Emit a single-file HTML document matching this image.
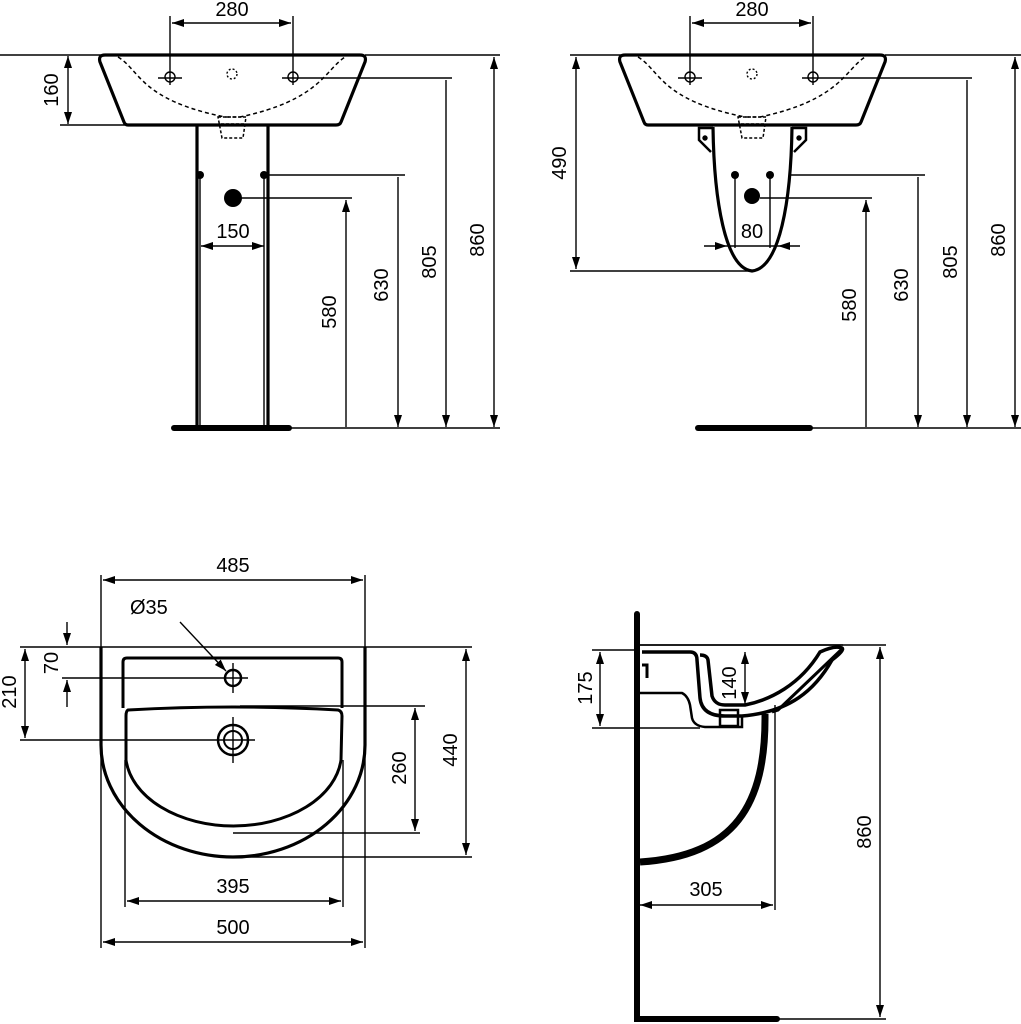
<!DOCTYPE html>
<html><head><meta charset="utf-8"><style>
html,body{margin:0;padding:0;background:#fff;}
svg{display:block;}
text{font-family:"Liberation Sans",sans-serif;font-size:20px;fill:#000;}
</style></head><body>
<svg width="1021" height="1024" viewBox="0 0 1021 1024" xmlns="http://www.w3.org/2000/svg">
<defs>
<marker id="a" viewBox="0 0 12 8" refX="12" refY="4" markerWidth="12" markerHeight="8" markerUnits="userSpaceOnUse" orient="auto-start-reverse"><path d="M0,0 L12,4 L0,8 Z" fill="#000"/></marker>
</defs>
<g stroke="#000" fill="none" stroke-width="1.4">
<!-- ===== TOP LEFT ===== -->
<line x1="170" y1="16" x2="170" y2="85"/><line x1="293" y1="16" x2="293" y2="85"/>
<line x1="172" y1="23" x2="291" y2="23" marker-start="url(#a)" marker-end="url(#a)"/>
<line x1="0" y1="55" x2="101" y2="55"/><line x1="60" y1="125" x2="125" y2="125"/>
<line x1="68" y1="56" x2="68" y2="124" marker-start="url(#a)" marker-end="url(#a)"/>
<line x1="365" y1="55" x2="500" y2="55"/>
<line x1="282" y1="78" x2="452" y2="78"/>
<line x1="268" y1="175" x2="405" y2="175"/>
<line x1="240" y1="198" x2="352" y2="198"/>
<line x1="290" y1="428" x2="500" y2="428"/>
<line x1="346" y1="200" x2="346" y2="427" marker-start="url(#a)"/>
<line x1="398" y1="177" x2="398" y2="427" marker-end="url(#a)"/>
<line x1="446" y1="80" x2="446" y2="427" marker-end="url(#a)"/>
<line x1="494" y1="57" x2="494" y2="427" marker-start="url(#a)" marker-end="url(#a)"/>
<line x1="201" y1="246" x2="264" y2="246" marker-start="url(#a)" marker-end="url(#a)"/>
<line x1="200" y1="175" x2="200" y2="428"/><line x1="264" y1="175" x2="264" y2="428"/>
<path d="M105,55 L360,55 Q367,55 365,62 L341,122 Q340,125 336,125 L128,125 Q125,125 124,122 L100,62 Q98,55 105,55 Z" stroke-width="3.2"/>
<path d="M118,57 C140,70 140,100 225,117 L240,117 C320,100 325,70 345,57" stroke-dasharray="4,3" stroke-width="1.5"/>
<path d="M218,117 L246,117 L243,138 L222,138 Z M221,124 L244,124" stroke-dasharray="3,2" stroke-width="1.5"/>
<circle cx="170" cy="77" r="5"/><line x1="158" y1="78" x2="182" y2="78"/>
<circle cx="293" cy="77" r="5"/>
<circle cx="232" cy="74" r="5" stroke-dasharray="2,2"/>
<line x1="197" y1="125" x2="197" y2="425" stroke-width="3.2"/><line x1="268" y1="125" x2="268" y2="425" stroke-width="3.2"/>
<line x1="174" y1="428" x2="289" y2="428" stroke-width="6" stroke-linecap="round"/>
<!-- ===== TOP RIGHT ===== -->
<line x1="690" y1="16" x2="690" y2="85"/><line x1="813" y1="16" x2="813" y2="85"/>
<line x1="692" y1="23" x2="811" y2="23" marker-start="url(#a)" marker-end="url(#a)"/>
<line x1="570" y1="55" x2="621" y2="55"/><line x1="570" y1="271" x2="755" y2="271"/>
<line x1="576" y1="57" x2="576" y2="269" marker-start="url(#a)" marker-end="url(#a)"/>
<line x1="885" y1="55" x2="1021" y2="55"/>
<line x1="802" y1="78" x2="972" y2="78"/>
<line x1="790" y1="175" x2="925" y2="175"/>
<line x1="760" y1="198" x2="872" y2="198"/>
<line x1="810" y1="428" x2="1021" y2="428"/>
<line x1="866" y1="200" x2="866" y2="427" marker-start="url(#a)"/>
<line x1="918" y1="177" x2="918" y2="427" marker-end="url(#a)"/>
<line x1="967" y1="80" x2="967" y2="427" marker-end="url(#a)"/>
<line x1="1015" y1="57" x2="1015" y2="427" marker-start="url(#a)" marker-end="url(#a)"/>
<line x1="704" y1="246" x2="727" y2="246" marker-end="url(#a)"/><line x1="800" y1="246" x2="778" y2="246" marker-end="url(#a)"/>
<line x1="727" y1="246" x2="778" y2="246"/>
<line x1="735" y1="175" x2="735" y2="248"/><line x1="770" y1="175" x2="770" y2="248"/>
<path d="M625,55 L880,55 Q887,55 885,62 L861,122 Q860,125 856,125 L648,125 Q645,125 644,122 L620,62 Q618,55 625,55 Z" stroke-width="3.2"/>
<path d="M638,57 C660,70 660,100 745,117 L760,117 C840,100 845,70 865,57" stroke-dasharray="4,3" stroke-width="1.5"/>
<path d="M738,117 L766,117 L763,138 L742,138 Z M741,124 L764,124" stroke-dasharray="3,2" stroke-width="1.5"/>
<circle cx="690" cy="77" r="5"/><line x1="678" y1="78" x2="702" y2="78"/>
<circle cx="813" cy="77" r="5"/>
<circle cx="752" cy="74" r="5" stroke-dasharray="2,2"/>
<path d="M713,127 C714,200 725,268 752,271 C780,268 791,200 792,127" stroke-width="3.2"/>
<path d="M713,128 L699,128 L699,140 L711,152" stroke-width="2.5"/><circle cx="705" cy="138" r="2" fill="#000"/>
<path d="M792,128 L806,128 L806,140 L794,152" stroke-width="2.5"/><circle cx="799" cy="138" r="2" fill="#000"/>
<line x1="698" y1="428" x2="810" y2="428" stroke-width="6" stroke-linecap="round"/>
<!-- ===== BOTTOM LEFT ===== -->
<line x1="101" y1="575" x2="101" y2="948"/><line x1="365" y1="575" x2="365" y2="948"/>
<line x1="103" y1="580" x2="363" y2="580" marker-start="url(#a)" marker-end="url(#a)"/>
<line x1="125" y1="760" x2="125" y2="907"/><line x1="343" y1="760" x2="343" y2="907"/>
<line x1="127" y1="901" x2="341" y2="901" marker-start="url(#a)" marker-end="url(#a)"/>
<line x1="103" y1="942" x2="363" y2="942" marker-start="url(#a)" marker-end="url(#a)"/>
<line x1="20" y1="647" x2="472" y2="647"/>
<line x1="62" y1="678" x2="248" y2="678"/>
<line x1="20" y1="740" x2="255" y2="740"/>
<line x1="25" y1="649" x2="25" y2="738" marker-start="url(#a)" marker-end="url(#a)"/>
<line x1="67" y1="622" x2="67" y2="645" marker-end="url(#a)"/><line x1="67" y1="707" x2="67" y2="680" marker-end="url(#a)"/>
<line x1="240" y1="706" x2="425" y2="706"/><line x1="233" y1="833" x2="420" y2="833"/>
<line x1="415" y1="708" x2="415" y2="831" marker-start="url(#a)" marker-end="url(#a)"/>
<line x1="240" y1="857" x2="472" y2="857"/>
<line x1="466" y1="649" x2="466" y2="855" marker-start="url(#a)" marker-end="url(#a)"/>
<line x1="180" y1="622" x2="226" y2="671" marker-end="url(#a)"/>
<path d="M101,647 L101,745 A132,112 0 0 0 365,745 L365,647" stroke-width="3.2"/>
<path d="M123,708 L123,662 Q123,658 127,658 L338,658 Q342,658 342,662 L342,708" stroke-width="3"/>
<path d="M128,710 Q233,704 338,710 Q342,711 342,716 L341,760 A108,73 0 0 1 126,760 L126,716 Q126,711 128,710 Z" stroke-width="3"/>
<circle cx="233" cy="678" r="8" stroke-width="2.5"/><line x1="233" y1="663" x2="233" y2="693"/>
<circle cx="233" cy="740" r="15" stroke-width="2.5"/><circle cx="233" cy="740" r="9" stroke-width="2"/><line x1="233" y1="717" x2="233" y2="763"/>
<!-- ===== BOTTOM RIGHT ===== -->
<line x1="592" y1="650" x2="636" y2="650"/><line x1="592" y1="728" x2="700" y2="728"/>
<line x1="600" y1="652" x2="600" y2="726" marker-start="url(#a)" marker-end="url(#a)"/>
<line x1="745" y1="652" x2="745" y2="704" marker-start="url(#a)" marker-end="url(#a)"/>
<line x1="843" y1="645" x2="886" y2="645"/>
<line x1="880" y1="647" x2="880" y2="1017" marker-start="url(#a)" marker-end="url(#a)"/>
<line x1="775" y1="705" x2="775" y2="910"/>
<line x1="640" y1="905" x2="773" y2="905" marker-start="url(#a)" marker-end="url(#a)"/>
<line x1="777" y1="1019" x2="886" y2="1019"/>
<line x1="640" y1="645" x2="843" y2="645" stroke-width="1.8"/>
<path d="M637,614 L637,1019 L777,1019" stroke-width="6" stroke-linecap="round"/>
<path d="M642,652 L690,652 Q697,652 697,660 L700,698 Q702,716 725,716 L742,716 C790,712 815,690 832,660" stroke-width="3.5"/>
<path d="M832,660 Q845,650 842,648 Q835,645 820,652 C800,685 770,700 745,705 L725,705 Q715,705 712,696 L708,660 Q707,655 700,655" stroke-width="3.5"/>
<path d="M642,665 L647,665 L647,678" stroke-width="3"/>
<path d="M640,693 L682,693 Q688,696 690,705 L692,718 Q694,726 705,727 L742,727 L742,716" stroke-width="2.5"/>
<rect x="720" y="710" width="18" height="16" stroke-width="2.5"/>
<path d="M765,714 C766,805 735,856 640,862" stroke-width="7"/>
<path d="M772,712 L778,710 L843,648" stroke-width="3"/>
</g>
<g fill="#000">
<circle cx="200" cy="175" r="4"/><circle cx="264" cy="175" r="4"/><circle cx="233" cy="198" r="9"/>
<circle cx="735" cy="175" r="4"/><circle cx="770" cy="175" r="4"/><circle cx="752" cy="196" r="8"/>
</g>
<text x="232" y="16" text-anchor="middle">280</text>
<text x="752" y="16" text-anchor="middle">280</text>
<text x="233" y="238" text-anchor="middle">150</text>
<text x="752" y="238" text-anchor="middle">80</text>
<text transform="translate(58,90) rotate(-90)" text-anchor="middle">160</text>
<text transform="translate(336,312) rotate(-90)" text-anchor="middle">580</text>
<text transform="translate(388,285) rotate(-90)" text-anchor="middle">630</text>
<text transform="translate(436,262) rotate(-90)" text-anchor="middle">805</text>
<text transform="translate(484,240) rotate(-90)" text-anchor="middle">860</text>
<text transform="translate(566,163) rotate(-90)" text-anchor="middle">490</text>
<text transform="translate(856,305) rotate(-90)" text-anchor="middle">580</text>
<text transform="translate(908,285) rotate(-90)" text-anchor="middle">630</text>
<text transform="translate(957,262) rotate(-90)" text-anchor="middle">805</text>
<text transform="translate(1005,240) rotate(-90)" text-anchor="middle">860</text>
<text x="233" y="572" text-anchor="middle">485</text>
<text x="130" y="614">Ø35</text>
<text transform="translate(58,663) rotate(-90)" text-anchor="middle">70</text>
<text transform="translate(16,692) rotate(-90)" text-anchor="middle">210</text>
<text transform="translate(406,768) rotate(-90)" text-anchor="middle">260</text>
<text transform="translate(457,750) rotate(-90)" text-anchor="middle">440</text>
<text x="233" y="893" text-anchor="middle">395</text>
<text x="233" y="934" text-anchor="middle">500</text>
<text transform="translate(592,688) rotate(-90)" text-anchor="middle">175</text>
<text transform="translate(736,683) rotate(-90)" text-anchor="middle">140</text>
<text transform="translate(871,832) rotate(-90)" text-anchor="middle">860</text>
<text x="706" y="896" text-anchor="middle">305</text>
</svg>
</body></html>
